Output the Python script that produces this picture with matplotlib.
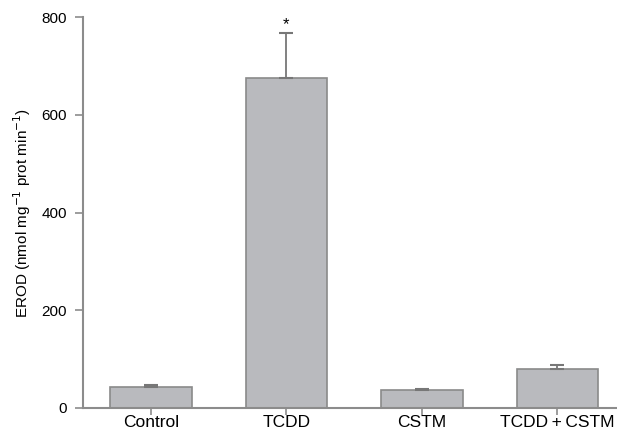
import matplotlib
matplotlib.use("Agg")
import matplotlib.pyplot as plt

categories = ["Control", "TCDD", "CSTM", "TCDD\u2009+\u2009CSTM"]
means = [42, 676, 36, 80]
errors = [5, 92, 3, 8]
yticks = [0, 200, 400, 600, 800]

plt.rcParams['font.family'] = ['Liberation Sans', 'DejaVu Sans']

fig = plt.figure(figsize=(6.17, 4.33), dpi=100)
ax = fig.add_axes([0.135, 0.0584, 0.865, 0.9016])

gray = "#8c8c8c"
x = list(range(len(categories)))
ax.bar(x, means, width=0.6, color="#b9babe", edgecolor="#8a8a8a", linewidth=1.2, zorder=2)
ax.errorbar(x, means, yerr=[[0]*len(errors), errors], fmt="none", ecolor="#777777",
            elinewidth=1.3, capsize=5, capthick=1.5, zorder=3)
ax.text(1, means[1] + errors[1] + 2, "*", ha="center", va="bottom", fontsize=12)

ax.set_xlim(-0.5, 3.44)
ax.set_ylim(0, 800)
ax.set_yticks(yticks)
ax.set_xticks(x)
ax.set_xticklabels(categories, fontsize=12.5)
ax.tick_params(axis='y', labelsize=11, length=6, width=1.2, color=gray, pad=6)
ax.tick_params(axis='x', length=5, width=1.2, color=gray, pad=0.5)
for s in ["top", "right"]:
    ax.spines[s].set_visible(False)
for s in ["left", "bottom"]:
    ax.spines[s].set_color(gray)
    ax.spines[s].set_linewidth(1.5)
ax.set_ylabel("EROD (nmol mg$^{-1}$ prot min$^{-1}$)", fontsize=11, labelpad=6)

fig.savefig("out.png", dpi=100)
